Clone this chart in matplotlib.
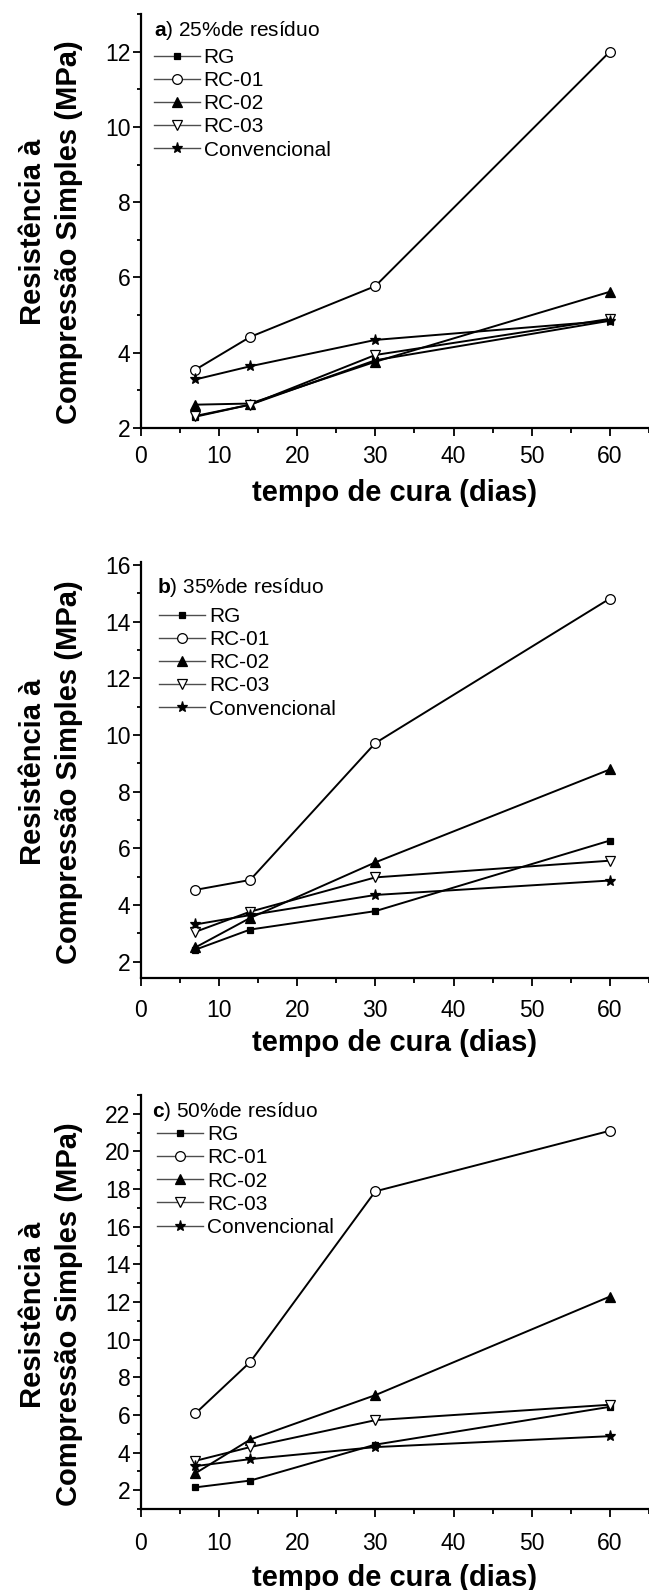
import matplotlib
matplotlib.use("Agg")
import matplotlib.pyplot as plt
from matplotlib.ticker import MultipleLocator

plt.rcParams['font.family'] = ['Liberation Sans', 'DejaVu Sans']
plt.rcParams['mathtext.fontset'] = 'custom'
plt.rcParams['mathtext.rm'] = 'Liberation Sans'
plt.rcParams['mathtext.bf'] = 'Liberation Sans:bold'

# curing time (days)
dias = [7, 14, 30, 60]
series = ["RG", "RC-01", "RC-02", "RC-03", "Convencional"]

# a) 25% residue
a_rg = [2.30, 2.62, 3.80, 4.85]
a_rc01 = [3.55, 4.42, 5.77, 12.0]
a_rc02 = [2.62, 2.65, 3.76, 5.62]
a_rc03 = [2.32, 2.62, 3.94, 4.90]
a_conv = [3.29, 3.64, 4.34, 4.85]

# b) 35% residue
b_rg = [2.42, 3.13, 3.78, 6.27]
b_rc01 = [4.53, 4.88, 9.71, 14.81]
b_rc02 = [2.50, 3.54, 5.50, 8.78]
b_rc03 = [3.05, 3.76, 4.97, 5.56]
b_conv = [3.31, 3.64, 4.35, 4.86]

# c) 50% residue
c_rg = [2.15, 2.51, 4.42, 6.43]
c_rc01 = [6.08, 8.81, 17.88, 21.10]
c_rc02 = [2.90, 4.69, 7.05, 12.29]
c_rc03 = [3.56, 4.29, 5.72, 6.54]
c_conv = [3.28, 3.65, 4.29, 4.87]

titles = [r"$\mathbf{a}$) 25%de resíduo",
          r"$\mathbf{b}$) 35%de resíduo",
          r"$\mathbf{c}$) 50%de resíduo"]

markers = ['s', 'o', '^', 'v', '*']
faces = ['black', 'white', 'black', 'white', 'black']
sizes = [5, 7, 7, 7.5, 8]

W, H = 649, 1590
fig = plt.figure(figsize=(W / 100, H / 100), dpi=100)

# axes boxes in pixels: (top, bottom)
boxes = [(14, 428), (562, 978), (1095, 1509)]
left, right = 140.7, 649
ylims = [(2, 13), (1.42, 16.1), (1, 23)]
titlepos = [(0.026, 0.959), (0.033, 0.9385), (0.022, 0.959)]
legpos = [(0.026, 0.918), (0.036, 0.892), (0.032, 0.927)]
ylab_y = [0.474, 0.495, 0.47]
xtick_pad = [6.2, 8.8, 10.2]
xlab_pad = [7.8, 5.2, 6.8]

data = [[a_rg, a_rc01, a_rc02, a_rc03, a_conv],
        [b_rg, b_rc01, b_rc02, b_rc03, b_conv],
        [c_rg, c_rc01, c_rc02, c_rc03, c_conv]]

for i in range(3):
    top, bot = boxes[i]
    ax = fig.add_axes([left / W, 1 - bot / H, (right - left) / W, (bot - top) / H])
    for name, vals, m, fc, ms in zip(series, data[i], markers, faces, sizes):
        ax.plot(dias, vals, color='black', lw=1.4, marker=m, markersize=ms,
                markerfacecolor=fc, markeredgecolor='black', markeredgewidth=0.9,
                label=name)
    ax.set_xlim(0, 65)
    ax.set_ylim(*ylims[i])
    ax.xaxis.set_major_locator(MultipleLocator(10))
    ax.xaxis.set_minor_locator(MultipleLocator(5))
    ax.yaxis.set_major_locator(MultipleLocator(2))
    ax.yaxis.set_minor_locator(MultipleLocator(1))
    for s in ['top', 'right']:
        ax.spines[s].set_visible(False)
    for s in ['left', 'bottom']:
        ax.spines[s].set_linewidth(1.6)
    ax.tick_params(axis='x', which='major', direction='out', length=6, width=1.3,
                   labelsize=16.5, pad=xtick_pad[i])
    ax.tick_params(axis='x', which='minor', direction='out', length=3.5, width=1.3)
    ax.tick_params(axis='y', which='major', direction='out', length=6, width=1.3,
                   labelsize=16.5, pad=1.5)
    ax.tick_params(axis='y', which='minor', direction='out', length=3, width=1.3)
    ax.set_xlabel("tempo de cura (dias)", fontsize=21, fontweight='bold',
                  labelpad=xlab_pad[i])
    ax.set_ylabel("Resistência à\nCompressão Simples (MPa)", fontsize=21,
                  fontweight='bold', labelpad=16, linespacing=1.33)
    ax.yaxis.label.set_y(ylab_y[i])
    ax.text(titlepos[i][0], titlepos[i][1], titles[i], transform=ax.transAxes,
            fontsize=15, ha='left', va='center')
    leg = ax.legend(loc='upper left', bbox_to_anchor=legpos[i],
                    frameon=False, fontsize=15,
                    handlelength=2.2, handletextpad=0.19, labelspacing=0.2,
                    borderpad=0, borderaxespad=0)
    for h in leg.get_lines():
        h.set_linewidth(1.0)
        h.set_color('0.3')

fig.savefig("out.png", dpi=100)
